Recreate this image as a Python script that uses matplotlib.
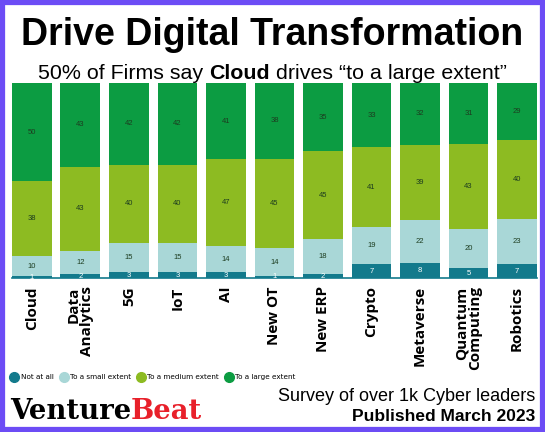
import matplotlib.pyplot as plt
from matplotlib.lines import Line2D
import numpy as np

# 数据
categories = ['Cloud', 'Data\nAnalytics', '5G', 'IoT', 'AI', 'New OT', 'New ERP',
              'Crypto', 'Metaverse', 'Quantum\nComputing', 'Robotics']
not_at_all = [1, 2, 3, 3, 3, 1, 2, 7, 8, 5, 7]
small_ext = [10, 12, 15, 15, 14, 14, 18, 19, 22, 20, 23]
medium_ext = [38, 43, 40, 40, 47, 45, 45, 41, 39, 43, 40]
large_ext = [50, 43, 42, 42, 41, 38, 35, 33, 32, 31, 29]
series_names = ['Not at all', 'To a small extent', 'To a medium extent', 'To a large extent']

colors = ['#137a8c', '#a9d7d7', '#8dbb22', '#0c9c42']

fig = plt.figure(figsize=(5.45, 4.32), dpi=100)
fig.patch.set_facecolor('white')

# 紫色边框
border = plt.Rectangle((0.004, 0.005), 0.992, 0.99, transform=fig.transFigure,
                       fill=False, edgecolor='#6c4cf5', linewidth=4.5)
fig.patches.append(border)

ax = fig.add_axes([0.022, 0.3565, 0.963, 0.4514])

data = np.array([not_at_all, small_ext, medium_ext, large_ext], dtype=float)
totals = data.sum(axis=0)
x = np.arange(len(categories))
bottom = np.zeros(len(categories))
for i in range(4):
    heights = data[i] / totals * 100
    ax.bar(x, heights, 0.82, bottom=bottom, color=colors[i], edgecolor='none')
    for j in range(len(categories)):
        tc = 'white' if i == 0 else '#1d3d20'
        ax.text(x[j], bottom[j] + heights[j] / 2, str(int(data[i][j])),
                ha='center', va='center', fontsize=5.5, color=tc,
                family='Liberation Sans')
    bottom += heights

ax.set_xlim(-0.41, len(categories) - 0.59)
ax.set_ylim(0, 100)
ax.set_yticks([])
for s in ['top', 'right', 'left']:
    ax.spines[s].set_visible(False)
ax.spines['bottom'].set_color('#137a8c')
ax.spines['bottom'].set_linewidth(1.2)
ax.set_xticks(x)
ax.set_xticklabels(categories, rotation=90, fontsize=11, fontweight='bold',
                   family='Open Sans', multialignment='right', linespacing=0.9)
ax.tick_params(axis='x', length=0, pad=6)

# 标题
fig.text(0.5, 0.918, 'Drive Digital Transformation', ha='center', va='center',
         fontsize=27, fontweight='bold', family='Liberation Sans')

# 副标题（Cloud 加粗）
parts = [('50% of Firms say ', 'normal'), ('Cloud', 'bold'),
         (' drives \u201cto a large extent\u201d', 'normal')]
fig.canvas.draw()
renderer = fig.canvas.get_renderer()
widths = []
for txt, w in parts:
    t = fig.text(0, 0, txt, fontsize=15.4, fontweight=w, family='Liberation Sans')
    widths.append(t.get_window_extent(renderer).width)
    t.remove()
W = fig.bbox.width
xpos = (W - sum(widths)) / 2
for (txt, w), wd in zip(parts, widths):
    fig.text(xpos / W, 0.83, txt, ha='left', va='center', fontsize=15.4,
             fontweight=w, family='Liberation Sans')
    xpos += wd

# 图例
handles = [Line2D([0], [0], marker='o', linestyle='none', markersize=7,
                  markerfacecolor=c, markeredgecolor=c) for c in colors]
fig.legend(handles, series_names, loc='center left', bbox_to_anchor=(0.008, 0.127),
           ncol=4, frameon=False, handletextpad=0.35,
           columnspacing=0.9, handlelength=1.0,
           prop={'family': 'Liberation Sans Narrow', 'size': 5.2})

# 底部
fig.text(0.018, 0.048, 'Venture', ha='left', va='center', fontsize=19.8,
         fontweight='bold', family='DejaVu Serif', color='black')
t1 = fig.text(0.018, 0.048, 'Venture', fontsize=19.8, fontweight='bold',
              family='DejaVu Serif', alpha=0)
vw = t1.get_window_extent(renderer).width
fig.text(0.018 + vw / W, 0.048, 'Beat', ha='left', va='center', fontsize=19.8,
         fontweight='bold', family='DejaVu Serif', color='#e8202a')

fig.text(0.982, 0.082, 'Survey of over 1k Cyber leaders', ha='right', va='center',
         fontsize=13, family='Liberation Sans')
fig.text(0.982, 0.035, 'Published March 2023', ha='right', va='center',
         fontsize=12.5, fontweight='bold', family='Liberation Sans')

plt.savefig('out.png', dpi=100)
plt.close()
